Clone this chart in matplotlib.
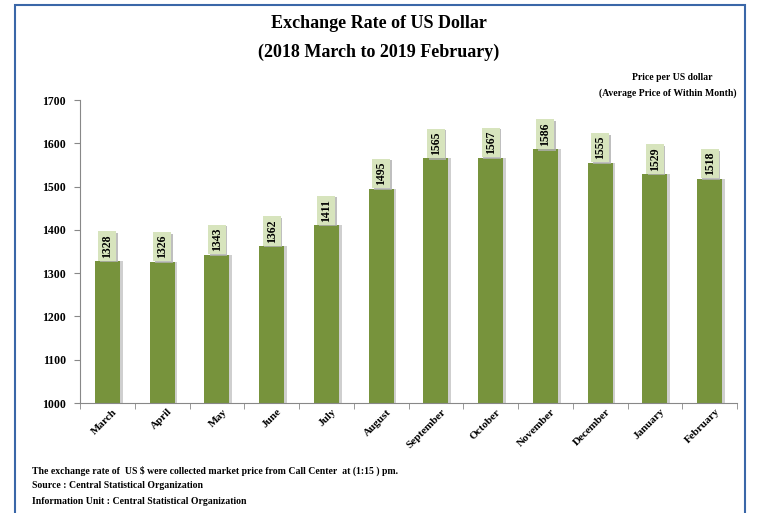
import numpy as np
import matplotlib.pyplot as plt
from matplotlib.patches import Rectangle
import matplotlib.patheffects as pe

months = ["March", "April", "May", "June", "July", "August", "September",
          "October", "November", "December", "January", "February"]
rates = [1328, 1326, 1343, 1362, 1411, 1495, 1565, 1567, 1586, 1555, 1529, 1518]
yticks = [1000, 1100, 1200, 1300, 1400, 1500, 1600, 1700]

plt.rcParams['font.family'] = ['Liberation Serif', 'DejaVu Serif']
plt.rcParams['font.weight'] = 'bold'

fig = plt.figure(figsize=(7.58, 5.13), dpi=100)
# outer frame
fig.patches.append(Rectangle((15/758, -0.05), 730/758, 1.05 - 5/513, transform=fig.transFigure,
                             fill=False, edgecolor='#3A67A8', linewidth=1.5))

ax = fig.add_axes([80/758, 1 - 403/513, 657/758, 303/513])
x = np.arange(len(months))
bar_color = '#77933C'
# shadow
ax.bar(x + 0.05, np.array(rates) - 1000, bottom=1000, width=0.46, color='#cfcfcf', zorder=1)
ax.bar(x, np.array(rates) - 1000, bottom=1000, width=0.46, color=bar_color, zorder=2)

for xi, v in zip(x, rates):
    ax.text(xi, v + 8, str(v), rotation=90, ha='center', va='bottom', fontsize=8.5,
            fontweight='bold', zorder=4,
            bbox=dict(boxstyle='square,pad=0.25', facecolor='#D7E4BD', edgecolor='none',
                      path_effects=[pe.withSimplePatchShadow(offset=(1.2, -1.2), shadow_rgbFace='#b0b0b0', alpha=0.8),
                                    pe.Normal()]))

ax.set_xlim(-0.5, len(months) - 0.5)
ax.set_ylim(1000, 1700)
ax.set_yticks(yticks)
ax.set_yticklabels([str(t) for t in yticks], fontsize=8.5, fontweight='bold')
ax.set_xticks(x + 0.1)
ax.set_xticklabels(months, rotation=45, ha='right', rotation_mode='anchor', fontsize=8, fontweight='bold')
ax.tick_params(axis='x', length=0, pad=3)
ax.set_xticks(np.arange(-0.5, len(months)), minor=True)
ax.tick_params(axis='x', which='minor', length=4, color='#888888')
ax.tick_params(axis='y', length=4, color='#888888', pad=6)
for s in ['top', 'right']:
    ax.spines[s].set_visible(False)
for s in ['left', 'bottom']:
    ax.spines[s].set_color('#888888')

fig.text(0.5, 1 - 24/513, "Exchange Rate of US Dollar", ha='center', va='center', fontsize=13, fontweight='bold')
fig.text(0.5, 1 - 52/513, "(2018 March to 2019 February)", ha='center', va='center', fontsize=13, fontweight='bold')
fig.text(672/758, 1 - 78/513, "Price per US dollar", ha='center', va='center', fontsize=7, fontweight='bold')
fig.text(668/758, 1 - 93/513, "(Average Price of Within Month)", ha='center', va='center', fontsize=7, fontweight='bold')

notes = ["The exchange rate of  US $ were collected market price from Call Center  at (1:15 ) pm.",
         "Source : Central Statistical Organization",
         "Information Unit : Central Statistical Organization"]
for i, n in enumerate(notes):
    fig.text(32/758, 1 - (471 + 15 * i)/513, n, ha='left', va='center', fontsize=7, fontweight='bold')

fig.savefig('out.png', dpi=100)
